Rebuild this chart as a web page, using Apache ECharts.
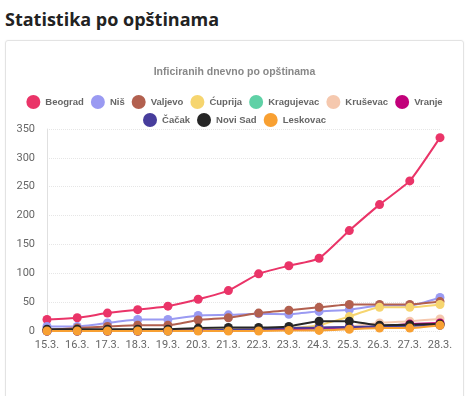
<!DOCTYPE html>
<html>
<head>
<meta charset="utf-8">
<script src="https://cdn.jsdelivr.net/npm/echarts@6/dist/echarts.min.js"></script>
<style>
  html, body { margin: 0; padding: 0; background: #fff; }
  body { width: 468px; height: 396px; position: relative; overflow: hidden; }
  h2 {
    position: absolute; left: 5px; top: 7px; margin: 0;
    font-family: "Open Sans", sans-serif; font-weight: 700; font-size: 18px; color: #222;
  }
  .card {
    position: absolute; left: 5px; top: 40px; width: 457px; height: 380px;
    border: 1px solid #e3e3e3; border-radius: 3px; box-shadow: 0 0 2px rgba(0,0,0,0.06);
  }
  #chart { position: absolute; left: 0; top: 0; width: 457px; height: 355px; }
</style>
</head>
<body>
<h2>Statistika po opštinama</h2>
<div class="card"><div id="chart"></div></div>
<script>
var days = ['15.3.', '16.3.', '17.3.', '18.3.', '19.3.', '20.3.', '21.3.', '22.3.', '23.3.', '24.3.', '25.3.', '26.3.', '27.3.', '28.3.']
var beograd = [20, 23, 31, 37, 43, 55, 70, 99, 113, 126, 174, 219, 260, 335]
var nis = [8, 8, 14, 20, 20, 27, 28, 30, 29, 34, 37, 44, 44, 58]
var valjevo = [2, 5, 8, 10, 10, 19, 23, 31, 36, 41, 46, 46, 46, 51]
var cuprija = [0, 0, 0, 0, 0, 2, 3, 4, 5, 10, 25, 41, 41, 46]
var kragujevac = [0, 0, 0, 0, 0, 1, 1, 2, 2, 3, 5, 8, 10, 12]
var krusevac = [0, 0, 0, 0, 0, 1, 2, 3, 4, 5, 8, 14, 17, 21]
var vranje = [0, 0, 0, 0, 1, 1, 1, 2, 3, 5, 6, 8, 12, 14]
var cacak = [0, 0, 0, 0, 0, 1, 2, 3, 5, 6, 7, 8, 9, 10]
var noviSad = [3, 3, 3, 3, 3, 5, 6, 6, 8, 17, 17, 10, 11, 12]
var leskovac = [0, 0, 0, 0, 0, 0, 0, 0, 1, 1, 3, 5, 5, 10]

var cities = [
  { name: 'Beograd', data: beograd, color: '#ea3468' },
  { name: 'Niš', data: nis, color: '#9a9af2' },
  { name: 'Valjevo', data: valjevo, color: '#b2604f' },
  { name: 'Ćuprija', data: cuprija, color: '#f6d56f' },
  { name: 'Kragujevac', data: kragujevac, color: '#5fd1a6' },
  { name: 'Kruševac', data: krusevac, color: '#f5c8ae' },
  { name: 'Vranje', data: vranje, color: '#c2007a' },
  { name: 'Čačak', data: cacak, color: '#473d9c' },
  { name: 'Novi Sad', data: noviSad, color: '#262626' },
  { name: 'Leskovac', data: leskovac, color: '#f8a032' }
]
var names = cities.map(function (c) { return c.name })

// two legend rows, 7 + 3 items, like the original
function legendRow(top, list) {
  return {
    top: top,
    left: 'center',
    icon: 'circle',
    itemWidth: 14,
    itemHeight: 14,
    itemGap: 7,
    textStyle: { fontFamily: 'Liberation Sans', fontSize: 9.5, fontWeight: 'bold', color: '#666' },
    data: list
  }
}

var chart = echarts.init(document.getElementById('chart'))
chart.setOption({
  animation: false,
  title: {
    text: 'Inficiranih dnevno po opštinama',
    left: 'center',
    top: 21,
    textStyle: { fontFamily: 'Liberation Sans', fontSize: 10.5, fontWeight: 'bold', color: '#888' }
  },
  legend: [legendRow(49, names.slice(0, 7)), legendRow(67, names.slice(7))],
  grid: { left: 41, right: 23, top: 88, height: 202 },
  xAxis: {
    type: 'category',
    boundaryGap: false,
    data: days,
    axisLine: { show: false },
    axisTick: { show: false },
    axisLabel: { interval: 0, color: '#666', fontFamily: 'Roboto', fontSize: 11, margin: 9 }
  },
  yAxis: {
    type: 'value',
    min: 0,
    max: 350,
    interval: 50,
    axisLine: { show: true, lineStyle: { color: '#e0e0e0' } },
    axisTick: { show: false },
    axisLabel: { color: '#666', fontFamily: 'Roboto', fontSize: 11, margin: 12 },
    splitLine: { lineStyle: { color: '#e6e6e6', type: 'dotted' } }
  },
  series: cities.map(function (c) {
    return {
      name: c.name,
      type: 'line',
      data: c.data,
      smooth: 0.15,
      symbol: 'circle',
      symbolSize: 9,
      color: c.color,
      lineStyle: { width: 2 }
    }
  })
})
</script>
</body>
</html>
